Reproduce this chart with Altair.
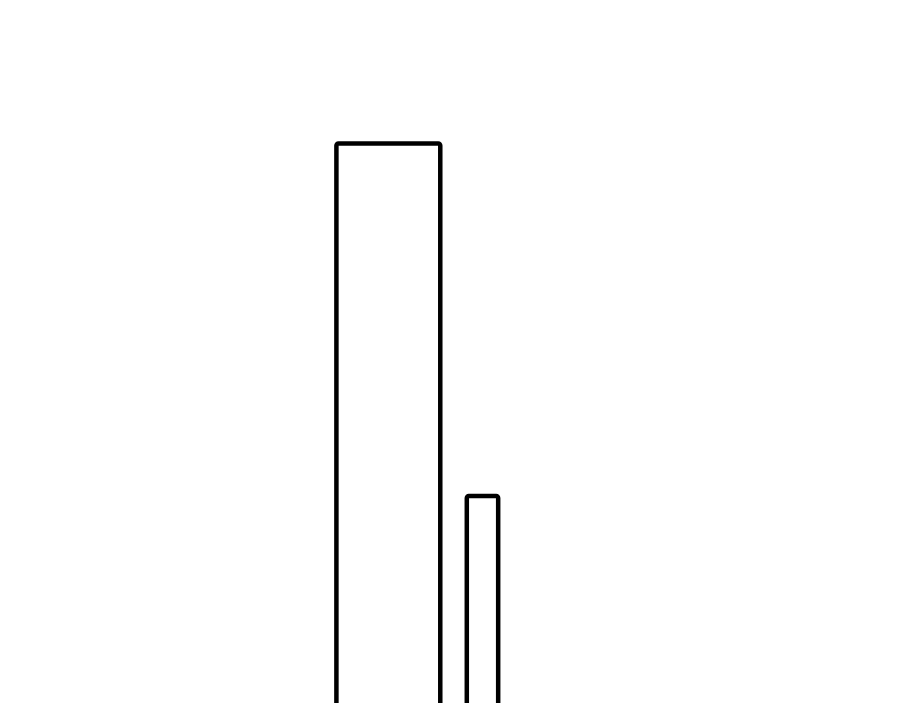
import altair as alt
import pandas as pd

starts = [74.3, 103.8]
ends = [97.8, 110.9]
values = [86.45, 51.2]
names = ["A", "B"]

df = pd.DataFrame({"name": names, "start": starts, "end": ends, "value": values})

chart = alt.Chart(df).mark_bar(
    fill="white", stroke="black", strokeWidth=4.5, cornerRadius=2
).encode(
    x=alt.X("start:Q", scale=alt.Scale(domain=[0, 200], nice=False, zero=False), axis=None),
    x2="end:Q",
    y=alt.Y("value:Q", scale=alt.Scale(domain=[0, 100], nice=False), axis=None),
    y2=alt.datum(0),
).properties(
    width=884, height=1000, padding=0
).configure_view(stroke=None)

chart.save("out.html", embed_options={"renderer": "svg", "actions": False})
